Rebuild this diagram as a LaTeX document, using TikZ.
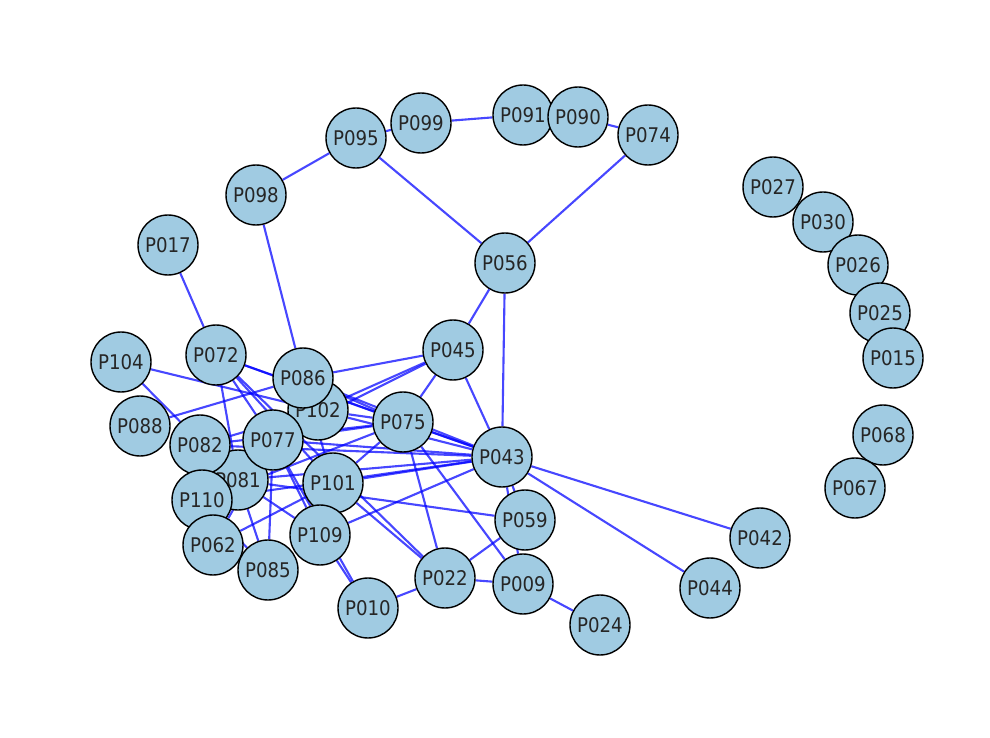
\documentclass[tikz,border=0pt]{standalone}
\usepackage{fontspec}
\setmainfont{DejaVu Sans Condensed}
\usetikzlibrary{backgrounds}
\definecolor{nodeblue}{RGB}{160,203,226}
\definecolor{edgeblue}{RGB}{0,0,255}

\begin{document}
\begin{tikzpicture}[
    pnode/.style={draw=black, line width=0.8pt, circle, fill=nodeblue, minimum size=1.2cm, inner sep=0pt, text=black!85, font=\fontsize{11.5}{13}\selectfont},
    link/.style={edgeblue, line width=1.2pt, opacity=0.72}]
            \useasboundingbox (0,0) rectangle (19.8,-14.76);

            % top ring
            \node[pnode] (p095) at (7.12, -2.76) {P095};
            \node[pnode] (p099) at (8.42, -2.46) {P099};
            \node[pnode] (p091) at (10.46, -2.30) {P091};
            \node[pnode] (p090) at (11.56, -2.34) {P090};
            \node[pnode] (p074) at (12.96, -2.70) {P074};
            \node[pnode] (p098) at (5.12, -3.90) {P098};
            \node[pnode] (p017) at (3.36, -4.90) {P017};
            \node[pnode] (p056) at (10.10, -5.26) {P056};

            % isolated ones on the right
            \node[pnode] (p027) at (15.46, -3.74) {P027};
            \node[pnode] (p030) at (16.46, -4.44) {P030};
            \node[pnode] (p026) at (17.16, -5.30) {P026};
            \node[pnode] (p025) at (17.60, -6.26) {P025};
            \node[pnode] (p015) at (17.86, -7.16) {P015};
            \node[pnode] (p068) at (17.66, -8.70) {P068};
            \node[pnode] (p067) at (17.10, -9.76) {P067};

            % dense cluster
            \node[pnode] (p045) at (9.06, -7.00) {P045};
            \node[pnode] (p072) at (4.32, -7.10) {P072};
            \node[pnode] (p104) at (2.42, -7.24) {P104};
            \node[pnode] (p102) at (6.36, -8.20) {P102};
            \node[pnode] (p086) at (6.06, -7.56) {P086};
            \node[pnode] (p075) at (8.06, -8.44) {P075};
            \node[pnode] (p088) at (2.80, -8.52) {P088};
            \node[pnode] (p081) at (4.76, -9.60) {P081};
            \node[pnode] (p082) at (4.00, -8.90) {P082};
            \node[pnode] (p077) at (5.46, -8.80) {P077};
            \node[pnode] (p110) at (4.04, -10.00) {P110};
            \node[pnode] (p101) at (6.66, -9.66) {P101};
            \node[pnode] (p043) at (10.04, -9.14) {P043};
            \node[pnode] (p059) at (10.50, -10.40) {P059};
            \node[pnode] (p042) at (15.20, -10.76) {P042};
            \node[pnode] (p062) at (4.26, -10.90) {P062};
            \node[pnode] (p109) at (6.40, -10.70) {P109};
            \node[pnode] (p085) at (5.36, -11.40) {P085};
            \node[pnode] (p022) at (8.90, -11.56) {P022};
            \node[pnode] (p009) at (10.46, -11.68) {P009};
            \node[pnode] (p044) at (14.20, -11.76) {P044};
            \node[pnode] (p010) at (7.36, -12.16) {P010};
            \node[pnode] (p024) at (12.00, -12.50) {P024};

            \begin{scope}[on background layer]
            \draw[link] (p095) -- (p099);
            \draw[link] (p099) -- (p091);
            \draw[link] (p091) -- (p090);
            \draw[link] (p090) -- (p074);
            \draw[link] (p095) -- (p098);
            \draw[link] (p095) -- (p056);
            \draw[link] (p074) -- (p056);
            \draw[link] (p056) -- (p045);
            \draw[link] (p056) -- (p043);
            \draw[link] (p098) -- (p086);
            \draw[link] (p017) -- (p072);

            \draw[link] (p045) -- (p086);
            \draw[link] (p045) -- (p102);
            \draw[link] (p045) -- (p075);
            \draw[link] (p045) -- (p077);
            \draw[link] (p045) -- (p043);

            \draw[link] (p104) -- (p102);
            \draw[link] (p104) -- (p081);
            \draw[link] (p088) -- (p086);

            \draw[link] (p072) -- (p075);
            \draw[link] (p072) -- (p043);
            \draw[link] (p072) -- (p077);
            \draw[link] (p072) -- (p081);
            \draw[link] (p072) -- (p101);
            \draw[link] (p072) -- (p022);

            \draw[link] (p086) -- (p075);
            \draw[link] (p086) -- (p043);
            \draw[link] (p086) -- (p101);
            \draw[link] (p102) -- (p043);
            \draw[link] (p102) -- (p075);
            \draw[link] (p102) -- (p082);

            \draw[link] (p077) -- (p043);
            \draw[link] (p077) -- (p075);
            \draw[link] (p077) -- (p010);
            \draw[link] (p082) -- (p075);
            \draw[link] (p082) -- (p043);

            \draw[link] (p081) -- (p043);
            \draw[link] (p081) -- (p059);
            \draw[link] (p081) -- (p109);
            \draw[link] (p081) -- (p085);
            \draw[link] (p110) -- (p075);
            \draw[link] (p110) -- (p043);
            \draw[link] (p110) -- (p085);
            \draw[link] (p062) -- (p101);
            \draw[link] (p062) -- (p077);

            \draw[link] (p101) -- (p043);
            \draw[link] (p101) -- (p075);
            \draw[link] (p101) -- (p022);
            \draw[link] (p109) -- (p043);
            \draw[link] (p109) -- (p010);
            \draw[link] (p109) -- (p077);
            \draw[link] (p085) -- (p077);

            \draw[link] (p075) -- (p043);
            \draw[link] (p075) -- (p009);
            \draw[link] (p075) -- (p022);
            \draw[link] (p043) -- (p059);
            \draw[link] (p043) -- (p042);
            \draw[link] (p043) -- (p044);
            \draw[link] (p043) -- (p009);
            \draw[link] (p059) -- (p022);
            \draw[link] (p022) -- (p009);
            \draw[link] (p022) -- (p010);
            \draw[link] (p009) -- (p024);
            \end{scope}
    	\end{tikzpicture}
\end{document}
